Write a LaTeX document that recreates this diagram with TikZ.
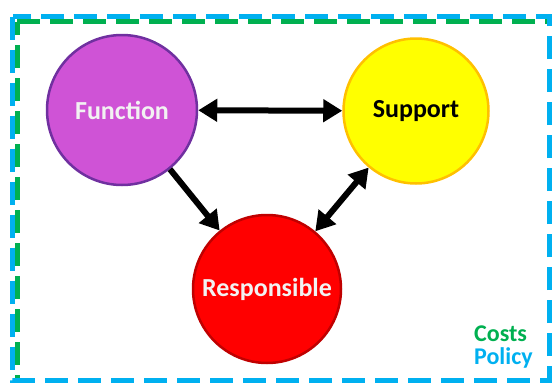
\documentclass[tikz,border=0pt]{standalone}
\usepackage{fontspec}
\setmainfont{Carlito}
\usetikzlibrary{arrows.meta}
\definecolor{fnfill}{RGB}{207,83,214}
\definecolor{fnline}{RGB}{112,48,160}
\definecolor{spfill}{RGB}{255,255,0}
\definecolor{spline}{RGB}{255,192,0}
\definecolor{rsfill}{RGB}{255,0,0}
\definecolor{rsline}{RGB}{192,0,0}
\definecolor{costgreen}{RGB}{0,176,80}
\definecolor{policyblue}{RGB}{0,176,240}
\begin{document}
\begin{tikzpicture}[x=1pt, y=-1pt,
	topic/.style={circle, inner sep=0pt, line width=2.5pt, font=\bfseries\fontsize{26}{30}\selectfont},
	link/.style={line width=6pt, arrows={-Triangle[length=19pt, width=22pt]}},
	twoway/.style={link, arrows={Triangle[length=19pt, width=22pt]-Triangle[length=19pt, width=22pt]}},
	frame/.style={line width=5pt, dash pattern=on 23pt off 10pt}]
		\clip (0,0) rectangle (552,383);
		\draw[frame, costgreen] (17,21.5) -- (553,21.5);
		\draw[frame, costgreen, dash phase=17.5pt] (17,380) -- (17,21.5);
		\draw[frame, policyblue] (12.5,16.5) rectangle (549,380);
		\node[topic, fill=fnfill, draw=fnline, text=white!95!black, minimum size=150pt] at (122,110) (fn) {Function};
		\node[topic, fill=spfill, draw=spline, text=black, minimum size=145pt] at (416,111) (sp) {Support};
		\node[topic, fill=rsfill, draw=rsline, text=white!95!black, minimum size=148pt] at (267,289) (rs) {Responsible};
		\draw[twoway] (fn)--(sp);
		\draw[link] (fn)--(rs);
		\draw[twoway] (rs)--(sp);
		\node[anchor=north west, inner sep=0pt, align=left, font=\bfseries\fontsize{24}{23}\selectfont] at (474,326) (costs)
			{\textcolor{costgreen}{Costs}\\\textcolor{policyblue}{Policy}};
	\end{tikzpicture}
\end{document}
